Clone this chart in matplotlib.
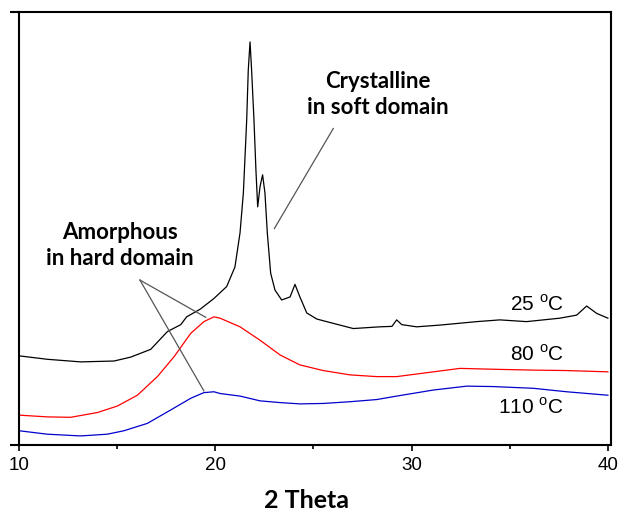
import matplotlib
matplotlib.use('Agg')
import matplotlib.pyplot as plt
from matplotlib.ticker import MultipleLocator

plt.rcParams['font.family'] = ['Liberation Sans', 'DejaVu Sans']
plt.rcParams['mathtext.fontset'] = 'custom'
plt.rcParams['mathtext.rm'] = 'Liberation Sans'

# 25 C
bk_x = [10, 11.44, 13.14, 14.84, 15.69, 16.71, 17.56, 18.24, 18.54, 19.24, 19.92, 20.58, 21.0, 21.26,
        21.43, 21.6, 21.68, 21.77, 21.85, 21.97, 22.07, 22.16, 22.28, 22.41, 22.53, 22.65, 22.82, 23.04,
        23.38, 23.81, 24.06, 24.31, 24.66, 25.17, 25.67, 26.01, 27.03, 28.39, 29.0, 29.24, 29.5, 30.26,
        31.45, 33.32, 34.5, 35.86, 37.56, 38.41, 38.92, 39.43, 40.0]
bk_y = [20.6, 19.8, 19.2, 19.4, 20.3, 22.1, 26.2, 27.8, 29.6, 31.4, 33.8, 36.6, 41.1, 49.0,
        58.2, 75.1, 86.6, 93.1, 86.6, 75.1, 63.5, 55.0, 59.7, 62.4, 58.2, 49.0, 39.7, 35.8,
        33.5, 34.2, 37.1, 34.2, 30.5, 29.1, 28.5, 28.1, 26.9, 27.3, 27.4, 28.9, 27.8, 27.3,
        27.7, 28.5, 28.9, 28.5, 29.3, 30.0, 32.1, 30.4, 29.3]

# 80 C
rd_x = [10, 11.44, 12.63, 13.99, 15.01, 16.03, 17.05, 17.9, 18.75, 19.42, 19.93, 20.24, 21.26, 22.28,
        23.3, 24.31, 25.5, 26.86, 28.22, 29.24, 31.11, 32.47, 34.16, 36.2, 37.9, 40.0]
rd_y = [6.9, 6.5, 6.4, 7.5, 9.0, 11.5, 15.8, 20.4, 25.8, 28.5, 29.6, 29.3, 27.3, 24.2,
        20.8, 18.5, 17.2, 16.2, 15.8, 15.8, 16.9, 17.7, 17.5, 17.3, 17.2, 16.9]

# 110 C
bl_x = [10, 11.44, 13.14, 14.5, 15.35, 16.54, 17.73, 18.75, 19.42, 19.93, 20.24, 21.26, 22.28, 23.3,
        24.31, 25.5, 26.86, 28.22, 29.24, 31.11, 32.81, 34.16, 36.2, 37.9, 40.0]
bl_y = [3.3, 2.5, 2.1, 2.5, 3.3, 5.0, 8.1, 10.8, 12.1, 12.3, 11.9, 11.3, 10.2, 9.8,
        9.5, 9.6, 10.0, 10.5, 11.3, 12.7, 13.6, 13.5, 13.1, 12.3, 11.5]

labels = ['25 $^{\\mathregular{o}}$C', '80 $^{\\mathregular{o}}$C', '110 $^{\\mathregular{o}}$C']
label_y = [32.5, 21.0, 8.8]

fig = plt.figure(figsize=(6.19, 5.14), dpi=100)
ax = fig.add_axes([0.0307, 0.1342, 0.9564, 0.8424])

ax.plot(bk_x, bk_y, color='black', lw=0.9)
ax.plot(rd_x, rd_y, color='red', lw=0.9)
ax.plot(bl_x, bl_y, color='#0000cc', lw=0.9)

for lab, yy in zip(labels, label_y):
    ax.text(37.76, yy, lab, ha='right', va='center', fontsize=15)

bold = dict(family=['Lato', 'DejaVu Sans'], fontweight='bold', fontsize=16, ha='center', va='center',
            linespacing=1.3)
ax.text(28.29, 81, 'Crystalline\nin soft domain', **bold)
ax.text(15.15, 46, 'Amorphous\nin hard domain', **bold)

ln = dict(color='#555555', lw=0.9)
ax.plot([26.01, 23.01], [73.1, 50.0], **ln)
ax.plot([16.16, 19.51], [38.1, 29.5], **ln)
ax.plot([16.16, 19.42], [38.1, 12.5], **ln)

ax.set_xlim(10, 40.16)
ax.set_ylim(0, 100)
ax.xaxis.set_major_locator(MultipleLocator(10))
ax.xaxis.set_minor_locator(MultipleLocator(5))
ax.set_yticks([0, 100])
ax.set_yticklabels([])
ax.tick_params(axis='x', which='major', direction='out', length=4.5, width=1.2, labelsize=13.5, pad=4)
ax.tick_params(axis='x', which='minor', direction='out', length=3, width=1.2)
ax.tick_params(axis='y', direction='out', length=6.5, width=1.5)
for s in ax.spines.values():
    s.set_linewidth(1.5)

fig.text(307 / 619, 1 - 501 / 514, '2 Theta', family=['Lato', 'DejaVu Sans'], fontweight='bold',
         fontsize=18, ha='center', va='center')

fig.savefig('out.png', dpi=100)
